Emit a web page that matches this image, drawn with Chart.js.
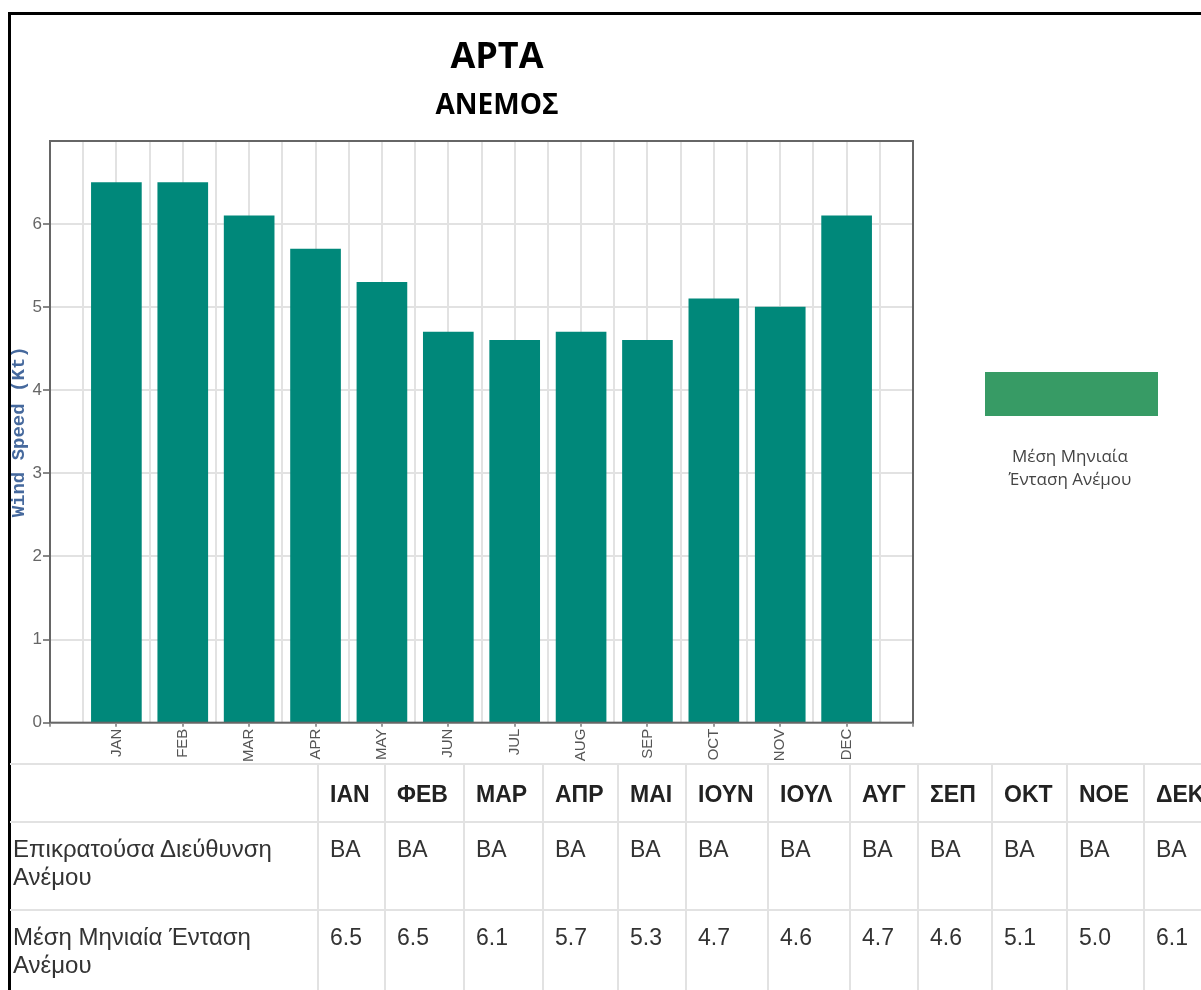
<!DOCTYPE html>
<html>
<head>
<meta charset="utf-8">
<script src="https://cdn.jsdelivr.net/npm/chart.js@4.4.1/dist/chart.umd.min.js"></script>
<style>
    html, body {
        margin: 0;
        padding: 0;
        width: 1201px;
        height: 990px;
        overflow: hidden;
        background: #fff;
    }
    #frame {
        position: absolute;
        left: 8px;
        top: 12px;
        width: 1400px;
        height: 1200px;
        border-left: 3px solid #000;
        border-top: 3px solid #000;
    }
    #chart {
        position: absolute;
        left: 0;
        top: 0;
    }
    .head {
        position: absolute;
        left: 347px;
        width: 300px;
        text-align: center;
        font-family: "Open Sans", sans-serif;
        font-weight: bold;
        color: #000;
    }
    #title {
        top: 30px;
        font-size: 36px;
        line-height: 50px;
    }
    #subtitle {
        top: 83px;
        font-size: 28px;
        line-height: 40px;
    }
    #legend-box {
        position: absolute;
        left: 985px;
        top: 372px;
        width: 173px;
        height: 44px;
        background: #379b65;
    }
    #legend-text {
        position: absolute;
        left: 970px;
        top: 444px;
        width: 200px;
        text-align: center;
        font-family: "Open Sans", sans-serif;
        font-size: 17px;
        line-height: 23px;
        color: #444;
    }
    #data-table {
        position: absolute;
        left: 10px;
        top: 763px;
        border-collapse: collapse;
        table-layout: fixed;
        font-family: "Liberation Sans", Arial, sans-serif;
        font-size: 23px;
        color: #333;
    }
    #data-table th, #data-table td {
        border: 2px solid #e2e2e2;
        text-align: left;
    }
    #data-table th {
        font-weight: bold;
        color: #222;
        line-height: 30px;
        padding: 14px 10px 12px 11px;
        vertical-align: middle;
    }
    #data-table td {
        line-height: 28px;
        padding: 12px 10px 18px 11px;
        vertical-align: top;
    }
    #data-table td.row-label {
        font-size: 24px;
        padding-left: 3px;
    }
    #data-table th:first-child,
    #data-table td:first-child {
        border-left: none;
    }
</style>
</head>
<body>
<div id="frame"></div>
<canvas id="chart" width="994" height="768"></canvas>
<div id="title" class="head">ΑΡΤΑ</div>
<div id="subtitle" class="head">ΑΝΕΜΟΣ</div>
<div id="legend-box"></div>
<div id="legend-text">Μέση Μηνιαία<br>Ένταση Ανέμου</div>
<table id="data-table"></table>

<script>
// Chart data
const monthCodes = ['JAN', 'FEB', 'MAR', 'APR', 'MAY', 'JUN', 'JUL', 'AUG', 'SEP', 'OCT', 'NOV', 'DEC'];
const monthsGr = ['ΙΑΝ', 'ΦΕΒ', 'ΜΑΡ', 'ΑΠΡ', 'ΜΑΙ', 'ΙΟΥΝ', 'ΙΟΥΛ', 'ΑΥΓ', 'ΣΕΠ', 'ΟΚΤ', 'ΝΟΕ', 'ΔΕΚ'];
const windSpeed = [6.5, 6.5, 6.1, 5.7, 5.3, 4.7, 4.6, 4.7, 4.6, 5.1, 5.0, 6.1];
const windDirection = ['ΒΑ', 'ΒΑ', 'ΒΑ', 'ΒΑ', 'ΒΑ', 'ΒΑ', 'ΒΑ', 'ΒΑ', 'ΒΑ', 'ΒΑ', 'ΒΑ', 'ΒΑ'];
const yTicks = [0, 1, 2, 3, 4, 5, 6];
const rowLabels = ['Επικρατούσα Διεύθυνση Ανέμου', 'Μέση Μηνιαία Ένταση Ανέμου'];
const colWidths = [308, 67, 79, 79, 75, 68, 82, 82, 68, 74, 75, 77, 80];

// Draws the dark box round the plot area
const plotFrame = {
    id: 'plotFrame',
    afterDatasetsDraw(chart) {
        const { ctx, chartArea } = chart;
        ctx.save();
        ctx.strokeStyle = '#666';
        ctx.lineWidth = 2;
        ctx.strokeRect(chartArea.left, chartArea.top, chartArea.right - chartArea.left, chartArea.bottom - chartArea.top);
        ctx.restore();
    }
};

new Chart(document.getElementById('chart'), {
    type: 'bar',
    data: {
        datasets: [{
            label: rowLabels[1],
            data: windSpeed.map((v, i) => ({ x: i + 1, y: v })),
            backgroundColor: '#00887a',
            borderWidth: 0,
            barThickness: 50
        }]
    },
    options: {
        responsive: false,
        animation: false,
        layout: {
            padding: { left: 0, right: 81, top: 141, bottom: 4 }
        },
        plugins: {
            legend: { display: false },
            tooltip: { enabled: false }
        },
        scales: {
            x: {
                type: 'linear',
                offset: false,
                min: 0,
                max: monthCodes.length + 1,
                border: { display: false },
                grid: {
                    offset: false,
                    color: '#e2e2e2',
                    lineWidth: 2,
                    tickLength: 4,
                    tickColor: (c) => (c.tick && Number.isInteger(c.tick.value)) ? '#999' : 'rgba(0,0,0,0)'
                },
                ticks: {
                    stepSize: 0.5,
                    autoSkip: false,
                    maxRotation: 90,
                    minRotation: 90,
                    padding: 2,
                    color: '#555',
                    font: { family: 'Liberation Sans', size: 15 },
                    callback: (v) => Number.isInteger(v) ? (monthCodes[v - 1] || '') : ''
                }
            },
            y: {
                min: 0,
                max: yTicks.length,
                border: { display: false },
                afterFit: (scale) => { scale.width = 50; },
                grid: {
                    color: '#e2e2e2',
                    lineWidth: 2,
                    tickLength: 7,
                    tickColor: (c) => (c.tick && yTicks.includes(c.tick.value)) ? '#888' : 'rgba(0,0,0,0)'
                },
                ticks: {
                    stepSize: 1,
                    padding: 1,
                    color: '#666',
                    font: { family: 'Liberation Sans', size: 17 },
                    callback: (v) => yTicks.includes(v) ? String(v) : ''
                },
                title: {
                    display: true,
                    text: 'Wind Speed (Kt)',
                    color: '#46699d',
                    font: { family: 'Liberation Mono', size: 19, weight: 'bold' },
                    padding: { top: 8, bottom: 0 }
                }
            }
        }
    },
    plugins: [plotFrame]
});

// Table under the chart
function buildTable() {
    const table = document.getElementById('data-table');
    table.style.width = colWidths.reduce((a, b) => a + b, 0) + 'px';
    const colgroup = document.createElement('colgroup');
    colWidths.forEach(w => {
        const col = document.createElement('col');
        col.style.width = w + 'px';
        colgroup.appendChild(col);
    });
    table.appendChild(colgroup);

    const head = document.createElement('tr');
    head.appendChild(document.createElement('th'));
    monthsGr.forEach(m => {
        const th = document.createElement('th');
        th.textContent = m;
        head.appendChild(th);
    });
    table.appendChild(head);

    const rows = [windDirection, windSpeed.map(v => v.toFixed(1))];
    rows.forEach((vals, r) => {
        const tr = document.createElement('tr');
        const label = document.createElement('td');
        label.className = 'row-label';
        label.textContent = rowLabels[r];
        tr.appendChild(label);
        vals.forEach(v => {
            const td = document.createElement('td');
            td.textContent = v;
            tr.appendChild(td);
        });
        table.appendChild(tr);
    });
}

buildTable();
</script>
</body>
</html>
